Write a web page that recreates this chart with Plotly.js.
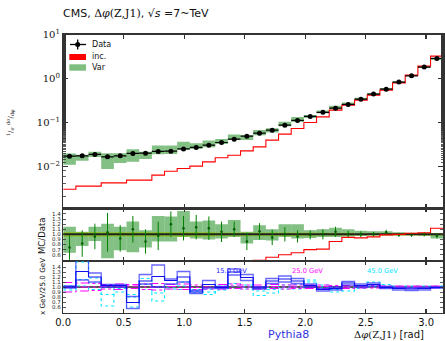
<!DOCTYPE html>
<html><head><meta charset="utf-8">
<script src="https://cdn.plot.ly/plotly-3.0.1.min.js"></script>
<style>html,body{margin:0;padding:0;background:#fff}#chart{width:445px;height:341px}</style>
</head><body><div id="chart"></div>
<script>
const binEdges = [0, 0.1047, 0.2094, 0.3142, 0.4189, 0.5236, 0.6283, 0.7330, 0.8378, 0.9425, 1.0472, 1.1519, 1.2566, 1.3614, 1.4661, 1.5708, 1.6755, 1.7802, 1.8850, 1.9897, 2.0944, 2.1991, 2.3038, 2.4086, 2.5133, 2.6180, 2.7227, 2.8274, 2.9322, 3.0369, 3.1416];
const dataVal = [0.0170, 0.0173, 0.0186, 0.0164, 0.0173, 0.0196, 0.0199, 0.0218, 0.0221, 0.0249, 0.0269, 0.0303, 0.0349, 0.0416, 0.0487, 0.0570, 0.0667, 0.0867, 0.111, 0.137, 0.170, 0.212, 0.258, 0.340, 0.443, 0.575, 0.832, 1.16, 1.83, 2.89];
const dataErrAbs = [0.0008, 0.0008, 0.0008, 0.0007, 0.0008, 0.0009, 0.0009, 0.0010, 0.0010, 0.0011, 0.0012, 0.0013, 0.0012, 0.0015, 0.0017, 0.0020, 0.0023, 0.0030, 0.0039, 0.0048, 0.0051, 0.0064, 0.0077, 0.0085, 0.0111, 0.0144, 0.0208, 0.029, 0.046, 0.072];
const incVal = [0.0030, 0.00352, 0.00352, 0.00418, 0.00418, 0.00482, 0.00482, 0.00627, 0.0077, 0.0089, 0.0101, 0.0126, 0.0156, 0.0179, 0.0225, 0.0277, 0.0394, 0.054, 0.0728, 0.100, 0.134, 0.191, 0.248, 0.323, 0.420, 0.546, 0.80, 1.20, 1.93, 3.26];
const varLo = [0.0109, 0.0133, 0.0162, 0.0087, 0.0119, 0.0127, 0.0147, 0.0187, 0.0190, 0.0237, 0.0247, 0.0273, 0.0321, 0.0395, 0.0399, 0.0507, 0.0587, 0.0824, 0.102, 0.127, 0.162, 0.201, 0.248, 0.330, 0.434, 0.575, 0.815, 1.14, 1.78, 2.66];
const varHi = [0.0196, 0.0182, 0.0214, 0.0198, 0.0199, 0.0245, 0.0215, 0.0296, 0.0298, 0.0364, 0.0336, 0.0385, 0.0419, 0.0532, 0.0511, 0.0673, 0.0734, 0.104, 0.133, 0.148, 0.187, 0.240, 0.284, 0.364, 0.470, 0.610, 0.865, 1.19, 1.87, 2.95];
const ratioVar = [0.74, 0.82, 0.96, 1.04, 0.92, 1.10, 0.86, 0.97, 1.20, 1.12, 1.14, 1.12, 1.05, 1.10, 0.86, 1.06, 0.94, 1.00, 0.96, 0.99, 1.00, 1.05, 1.00, 1.00, 1.00, 1.04, 0.99, 0.99, 1.00, 0.97];
const ratioVarErr = [0.24, 0.26, 0.25, 0.38, 0.26, 0.26, 0.24, 0.28, 0.25, 0.24, 0.24, 0.23, 0.20, 0.15, 0.17, 0.16, 0.15, 0.14, 0.12, 0.09, 0.10, 0.10, 0.07, 0.06, 0.05, 0.05, 0.04, 0.04, 0.04, 0.05];
const ratioVarLo = [0.64, 0.77, 0.87, 0.53, 0.69, 0.65, 0.74, 0.86, 0.86, 0.95, 0.92, 0.90, 0.92, 0.95, 0.82, 0.89, 0.88, 0.95, 0.92, 0.93, 0.95, 0.95, 0.96, 0.97, 0.98, 1.00, 0.98, 0.98, 0.97, 0.92];
const ratioVarHi = [1.15, 1.05, 1.15, 1.21, 1.15, 1.25, 1.08, 1.36, 1.35, 1.46, 1.25, 1.27, 1.20, 1.28, 1.05, 1.18, 1.10, 1.20, 1.20, 1.08, 1.10, 1.13, 1.10, 1.07, 1.06, 1.06, 1.04, 1.03, 1.02, 1.02];
const ratioDataLo = [0.955, 0.955, 0.955, 0.955, 0.955, 0.955, 0.955, 0.955, 0.955, 0.955, 0.955, 0.955, 0.965, 0.965, 0.965, 0.965, 0.965, 0.965, 0.965, 0.965, 0.97, 0.97, 0.97, 0.975, 0.975, 0.975, 0.975, 0.975, 0.975, 0.975];
const ratioDataHi = [1.045, 1.045, 1.045, 1.045, 1.045, 1.045, 1.045, 1.045, 1.045, 1.045, 1.045, 1.045, 1.035, 1.035, 1.035, 1.035, 1.035, 1.035, 1.035, 1.035, 1.03, 1.03, 1.03, 1.025, 1.025, 1.025, 1.025, 1.025, 1.025, 1.025];
const ratioInc = [0.18, 0.20, 0.19, 0.25, 0.24, 0.25, 0.24, 0.29, 0.35, 0.36, 0.38, 0.42, 0.45, 0.43, 0.46, 0.49, 0.55, 0.60, 0.64, 0.70, 0.71, 0.86, 0.94, 0.93, 0.95, 0.99, 1.00, 1.02, 1.03, 1.12];
const cut15Mid = [1.00, 1.31, 1.20, 1.03, 1.03, 0.69, 1.12, 1.21, 1.13, 1.20, 0.90, 1.05, 0.99, 1.30, 1.19, 0.98, 1.12, 1.16, 1.12, 1.03, 0.95, 0.97, 1.08, 1.03, 1.05, 0.99, 0.97, 0.96, 0.97, 0.99];
const cut15Hi = [1.02, 1.60, 1.28, 1.05, 1.05, 0.81, 1.25, 1.44, 1.16, 1.31, 0.93, 1.13, 1.01, 1.36, 1.25, 1.00, 1.17, 1.22, 1.17, 1.06, 0.97, 1.00, 1.11, 1.06, 1.08, 1.01, 0.99, 0.98, 0.99, 1.00];
const cut15Lo = [0.98, 1.14, 1.10, 1.00, 1.00, 0.57, 1.06, 1.00, 1.06, 1.10, 0.87, 0.98, 0.97, 1.24, 1.13, 0.96, 1.07, 1.10, 1.07, 1.00, 0.92, 0.94, 1.04, 1.00, 1.02, 0.97, 0.94, 0.93, 0.94, 0.98];
const cut25Mid = [0.99, 1.00, 1.00, 1.01, 1.00, 1.02, 1.00, 1.00, 1.01, 1.00, 0.99, 1.00, 1.01, 1.02, 1.00, 1.00, 1.01, 1.00, 1.00, 1.00, 1.01, 1.00, 1.00, 1.00, 1.00, 1.00, 1.00, 1.00, 1.00, 1.00];
const cut25Hi = [1.09, 1.08, 1.07, 1.05, 1.06, 1.05, 1.06, 1.07, 1.05, 1.06, 1.04, 1.05, 1.05, 1.06, 1.04, 1.04, 1.05, 1.04, 1.04, 1.04, 1.04, 1.03, 1.03, 1.03, 1.03, 1.02, 1.02, 1.02, 1.02, 1.02];
const cut25Lo = [0.90, 0.92, 0.93, 0.96, 0.95, 0.97, 0.95, 0.94, 0.96, 0.95, 0.95, 0.96, 0.96, 0.97, 0.96, 0.96, 0.97, 0.96, 0.97, 0.97, 0.97, 0.97, 0.97, 0.98, 0.98, 0.98, 0.98, 0.98, 0.98, 0.98];
const cut45Mid = [0.98, 1.15, 1.08, 0.85, 0.97, 0.80, 1.05, 0.88, 1.00, 1.02, 0.92, 0.90, 0.98, 1.02, 1.00, 0.92, 0.95, 1.00, 1.00, 1.10, 1.00, 0.95, 0.97, 1.00, 1.05, 1.02, 1.00, 1.00, 1.00, 1.00];
const cut45Hi = [1.02, 1.50, 1.18, 1.00, 1.00, 0.85, 1.17, 1.00, 1.05, 1.10, 0.95, 0.95, 1.02, 1.07, 1.04, 1.00, 1.00, 1.04, 1.05, 1.14, 1.04, 0.99, 1.00, 1.03, 1.10, 1.05, 1.02, 1.02, 1.02, 1.02];
const cut45Lo = [0.94, 1.02, 0.95, 0.62, 0.90, 0.60, 0.95, 0.72, 0.96, 0.95, 0.88, 0.85, 0.94, 0.97, 0.96, 0.83, 0.88, 0.96, 0.96, 1.03, 0.96, 0.90, 0.92, 0.97, 1.00, 0.98, 0.98, 0.98, 0.98, 0.98];
const xTickVals = [0.0, 0.5, 1.0, 1.5, 2.0, 2.5, 3.0];
const xTickText = ['0.0', '0.5', '1.0', '1.5', '2.0', '2.5', '3.0'];
const logTickVals = [0.01, 0.1, 1, 10];
const logTickText = ['10<sup>−2</sup>', '10<sup>−1</sup>', '10<sup>0</sup>', '10<sup>1</sup>'];
const ratioTickVals = [0.6, 0.7, 0.8, 0.9, 1.0, 1.1, 1.2, 1.3, 1.4];
const ratioTickText = ['0.6', '0.7', '0.8', '0.9', '1.0', '1.1', '1.2', '1.3', '1.4'];

const W = 445, H = 341;
const px = x => x / W, py = y => 1 - y / H;
const nb = dataVal.length;
const centers = [], widths = [], halfW = [];
for (let i = 0; i < nb; i++) {
  centers.push((binEdges[i] + binEdges[i + 1]) / 2);
  widths.push(binEdges[i + 1] - binEdges[i]);
  halfW.push((binEdges[i + 1] - binEdges[i]) / 2);
}
const stepY = v => v.concat([v[v.length - 1]]);
const diff = (a, b) => a.map((v, i) => v - b[i]);

function step(vals, xa, ya, color, width, dash) {
  return {type: 'scatter', mode: 'lines', x: binEdges, y: stepY(vals), xaxis: xa, yaxis: ya,
    line: {shape: 'hv', color: color, width: width, dash: dash || 'solid'}, hoverinfo: 'skip'};
}
function boxes(lo, hi, xa, ya, color) {
  return {type: 'bar', x: centers, base: lo, y: diff(hi, lo), width: widths, xaxis: xa, yaxis: ya,
    marker: {color: color, line: {width: 0}}, hoverinfo: 'skip'};
}

const GREEN = 'rgba(30,140,30,0.55)';
const traces = [
  boxes(varLo, varHi, 'x', 'y', GREEN),
  step(incVal, 'x', 'y', '#ff0000', 1.1),
  {type: 'scatter', mode: 'markers', x: centers, y: dataVal, xaxis: 'x', yaxis: 'y',
    marker: {color: 'black', size: 5},
    error_x: {type: 'data', array: halfW, visible: true, thickness: 1.2, width: 0, color: 'black'},
    error_y: {type: 'data', array: dataErrAbs, visible: true, thickness: 1.2, width: 0, color: 'black'}},
  boxes(ratioDataLo, ratioDataHi, 'x2', 'y2', 'rgb(255,255,70)'),
  boxes(ratioVarLo, ratioVarHi, 'x2', 'y2', GREEN),
  {type: 'scatter', mode: 'lines', x: [binEdges[0], binEdges[nb]], y: [1, 1], xaxis: 'x2', yaxis: 'y2',
    line: {color: '#222', width: 2}, hoverinfo: 'skip'},
  {type: 'scatter', mode: 'markers', x: centers, y: ratioVar, xaxis: 'x2', yaxis: 'y2',
    marker: {color: '#005a00', size: 2.5},
    error_y: {type: 'data', array: ratioVarErr, visible: true, thickness: 1, width: 0, color: '#008000'}},
  step(ratioInc, 'x2', 'y2', '#ff0000', 1.1),
  {type: 'scatter', mode: 'lines', x: [binEdges[0], binEdges[nb]], y: [1, 1], xaxis: 'x3', yaxis: 'y3',
    line: {color: '#222', width: 1.5}, hoverinfo: 'skip'},
  step(cut45Hi, 'x3', 'y3', '#00e5ff', 1.1, 'dot'),
  step(cut45Mid, 'x3', 'y3', '#00e5ff', 1.1, 'dot'),
  step(cut45Lo, 'x3', 'y3', '#00e5ff', 1.1, 'dot'),
  step(cut25Hi, 'x3', 'y3', '#ff00ff', 1, 'dashdot'),
  step(cut25Mid, 'x3', 'y3', '#ff00ff', 1, 'dashdot'),
  step(cut25Lo, 'x3', 'y3', '#ff00ff', 1, 'dashdot'),
  step(cut15Hi, 'x3', 'y3', 'rgba(40,40,255,0.7)', 1.3),
  step(cut15Lo, 'x3', 'y3', 'rgba(40,40,255,0.7)', 1.3),
  step(cut15Mid, 'x3', 'y3', '#1010ee', 1.1)
];

const AX = '#333';
const xBase = {range: [0, 3.1416], domain: [0.142, 0.996], showline: true, linecolor: AX, linewidth: 1.3,
  mirror: 'allticks', ticks: 'inside', ticklen: 4, tickwidth: 1.2, tickcolor: AX,
  tickvals: xTickVals, ticktext: xTickText, showgrid: false, zeroline: false, fixedrange: true};
const yRatio = {range: [0.477, 1.51], showline: true, linecolor: AX, linewidth: 1.3, mirror: 'allticks',
  ticks: 'inside', ticklen: 3, tickwidth: 0.8, tickcolor: AX, tickvals: ratioTickVals, ticktext: ratioTickText,
  tickfont: {size: 5.5, color: '#222'}, showgrid: false, zeroline: false};

const ann = [];
function txt(text, x, y, opts) {
  ann.push(Object.assign({text: text, x: px(x), y: py(y), xref: 'paper', yref: 'paper', showarrow: false,
    xanchor: 'left', yanchor: 'middle', borderpad: 0, font: {size: 8, color: '#111', family: 'DejaVu Sans'}}, opts || {}));
}
txt("CMS, <span style=\"font-family:'DejaVu Serif'\">Δ<i>φ</i>(Z,J1)</span>, √<i>s</i> =7~TeV", 62, 14, {font: {size: 11, color: '#111', family: 'DejaVu Sans'}});
txt('Data', 91, 44.7);
txt('inc.', 91, 57);
txt('Var', 91, 67.8);
txt('<sup>1</sup>/<sub>σ</sub> <sup>dσ</sup>/<sub>dφ</sub>', 10, 123, {xanchor: 'center', textangle: -90, font: {size: 7, color: '#111', family: 'DejaVu Serif'}});
txt('MC/Data', 42, 236, {xanchor: 'center', textangle: -90, font: {size: 8.5, color: '#111', family: 'DejaVu Sans'}});
txt('x GeV/25.0 GeV', 42, 287, {xanchor: 'center', textangle: -90, font: {size: 7.2, color: '#111', family: 'DejaVu Sans'}});
txt('15.0 GeV', 231, 270.5, {xanchor: 'center', font: {size: 6.7, color: '#2222ff', family: 'DejaVu Sans'}});
txt('25.0 GeV', 307.5, 270.5, {xanchor: 'center', font: {size: 6.7, color: '#ff00ff', family: 'DejaVu Sans'}});
txt('45.0 GeV', 382.5, 270.5, {xanchor: 'center', font: {size: 6.7, color: '#00e5ff', family: 'DejaVu Sans'}});
txt('Pythia8', 288, 334, {xanchor: 'center', font: {size: 11, color: '#3333dd', family: 'DejaVu Sans'}});
txt("<span style=\"font-family:'DejaVu Serif'\">Δ<i>φ</i>(Z,J1)</span> [rad]", 425, 334, {xanchor: 'right', font: {size: 10, color: '#111', family: 'DejaVu Sans'}});

const shapes = [
  {type: 'line', xref: 'paper', yref: 'paper', x0: px(70), x1: px(86), y0: py(44.5), y1: py(44.5), line: {color: 'black', width: 1.3}},
  {type: 'line', xref: 'paper', yref: 'paper', x0: px(77.7), x1: px(77.7), y0: py(39.5), y1: py(49.5), line: {color: 'black', width: 1.3}},
  {type: 'circle', xref: 'paper', yref: 'paper', x0: px(75.2), x1: px(80.2), y0: py(42), y1: py(47), fillcolor: 'black', line: {width: 0}},
  {type: 'rect', xref: 'paper', yref: 'paper', x0: px(69.3), x1: px(86), y0: py(54), y1: py(60), fillcolor: '#ff0000', line: {width: 0}},
  {type: 'rect', xref: 'paper', yref: 'paper', x0: px(69.3), x1: px(86), y0: py(64.3), y1: py(70.7), fillcolor: 'rgb(128,190,128)', line: {width: 0}}
];

const layout = {
  width: W, height: H, autosize: false, margin: {l: 0, r: 0, t: 0, b: 0},
  paper_bgcolor: 'white', plot_bgcolor: 'white', showlegend: false, barmode: 'overlay',
  font: {family: 'DejaVu Sans', color: '#111'},
  xaxis: Object.assign({}, xBase, {anchor: 'y', showticklabels: false}),
  xaxis2: Object.assign({}, xBase, {anchor: 'y2', showticklabels: false}),
  xaxis3: Object.assign({}, xBase, {anchor: 'y3', showticklabels: true, tickfont: {size: 10, color: '#111'}}),
  yaxis: {type: 'log', range: [-2.96, 1.0], domain: [0.389, 0.898], anchor: 'x', showline: true, linecolor: AX,
    linewidth: 1.3, mirror: 'allticks', ticks: 'inside', ticklen: 5, tickwidth: 1.2, tickcolor: AX,
    tickvals: logTickVals, ticktext: logTickText, tickfont: {size: 10, family: 'DejaVu Serif', color: '#111'},
    minor: {ticks: 'inside', ticklen: 2.5, tickcolor: AX, tickwidth: 0.8, showgrid: false},
    showgrid: false, zeroline: false},
  yaxis2: Object.assign({}, yRatio, {domain: [0.2346, 0.389], anchor: 'x2'}),
  yaxis3: Object.assign({}, yRatio, {domain: [0.083, 0.2346], anchor: 'x3', range: [0.486, 1.52]}),
  annotations: ann, shapes: shapes
};
Plotly.newPlot('chart', traces, layout, {staticPlot: true, displayModeBar: false});
</script></body></html>
